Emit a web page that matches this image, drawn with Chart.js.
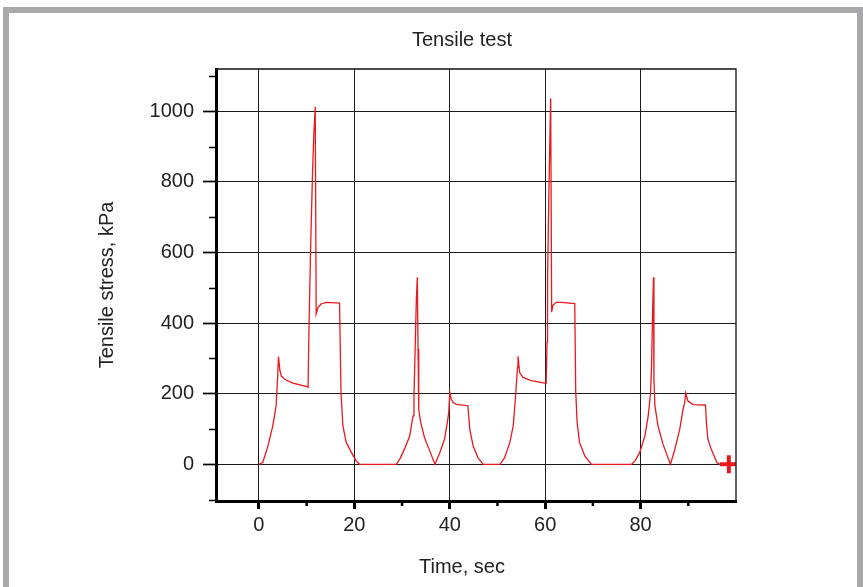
<!DOCTYPE html>
<html>
<head>
<meta charset="utf-8">
<script src="https://cdn.jsdelivr.net/npm/chart.js@4.4.1/dist/chart.umd.min.js"></script>
<style>
  html, body { margin: 0; padding: 0; background: #fff; }
  #wrap { position: relative; width: 863px; height: 587px; overflow: hidden; }
  #frame {
    position: absolute; left: 3px; top: 7px; width: 848px; height: 600px;
    border-left: 6px solid #a9a9ac; border-top: 6px solid #a9a9ac; border-right: 6px solid #a9a9ac;
    pointer-events: none;
  }
  canvas { position: absolute; left: 0; top: 0; }
</style>
</head>
<body>
<div id="wrap">
  <canvas id="myChart" width="863" height="587"></canvas>
  <div id="frame"></div>
</div>
<script>
// time (sec) and tensile stress (kPa)
const timeSec = [
  0, 0.8, 1.9, 2.9, 3.6, 3.9, 4.1, 4.4, 4.7, 5.4, 7.1, 9.9, 10.3,
  10.5, 10.8, 11.2, 11.5, 11.8, 12.0, 12.4, 13.1, 14.1, 16.9, 17.2,
  17.6, 18.3, 19.4, 20.4, 21.1, 28.8, 29.5, 30.5, 31.6, 32.3, 32.5,
  32.7, 33.0, 33.2, 33.35, 33.5, 33.9, 34.7, 35.8, 36.9, 37.9, 38.9,
  39.6, 39.8, 40.0, 40.3, 40.7, 41.4, 43.8, 44.2, 44.9, 45.9, 47.0,
  50.5, 51.5, 52.6, 53.3, 53.75, 54.2, 54.3, 54.65, 55.35, 57.1, 59.9,
  60.2, 60.4, 60.5, 60.7, 60.95, 61.15, 61.36, 61.6, 62.3, 63.4, 66.2,
  66.4, 66.7, 67.2, 68.3, 69.7, 78.1, 78.8, 79.8, 80.9, 81.6, 82.1,
  82.3, 82.5, 82.7, 82.8, 83.0, 83.65, 84.7, 86.25, 87.1, 88.2, 88.9,
  89.25, 89.45, 89.9, 91.0, 93.6, 93.8, 94.1, 94.8, 96.0, 96.6, 98.5
];
const stressKPa = [
  0, 5, 52, 109, 166, 241, 305, 265, 250, 241, 230, 221, 218,
  393, 592, 810, 933, 1013, 426, 445, 455, 459, 457, 204,
  109, 62, 33, 9, 0, 0, 14, 43, 80, 137, 194,
  303, 469, 530, 327, 156, 119, 76, 38, 0, 33, 71,
  128, 150, 204, 185, 175, 170, 166, 99, 52, 19, 0,
  0, 19, 62, 109, 185, 275, 306, 260, 246, 237, 230,
  229, 346, 521, 705, 895, 1037, 431, 450, 459, 459, 455,
  208, 118, 62, 24, 0, 0, 9, 33, 80, 137, 204,
  279, 421, 530, 241, 166, 109, 57, 0, 38, 99, 156,
  175, 202, 180, 169, 168, 118, 71, 43, 5, 0, 0
];
const xTickLabels = [0, 20, 40, 60, 80];
const yTickLabels = [0, 200, 400, 600, 800, 1000];
const xMinorTicks = [10, 30, 50, 70, 90];
const yMinorTicks = [-100, 100, 300, 500, 700, 900, 1100];

const points = timeSec.map((t, i) => ({ x: t, y: stressKPa[i] }));
const lastIdx = points.length - 1;
const red = "#e8191f";
const font = { family: "'Liberation Sans', Arial, sans-serif", size: 20 };

// top/right frame lines and the short minor ticks
const frameAndMinorTicks = {
  id: "frameAndMinorTicks",
  afterDraw(chart) {
    const { ctx, chartArea: a, scales: { x, y } } = chart;
    ctx.save();
    ctx.strokeStyle = "#111";
    ctx.lineWidth = 1.3;
    ctx.beginPath();
    ctx.moveTo(a.left, a.top);
    ctx.lineTo(a.right, a.top);
    ctx.lineTo(a.right, a.bottom);
    ctx.stroke();
    ctx.strokeStyle = "#000";
    ctx.lineWidth = 1.7;
    ctx.beginPath();
    yMinorTicks.forEach((v) => {
      const py = Math.round(y.getPixelForValue(v)) + 0.5;
      ctx.moveTo(a.left - 7, py);
      ctx.lineTo(a.left, py);
    });
    ctx.stroke();
    ctx.lineWidth = 2.5;
    ctx.beginPath();
    xMinorTicks.forEach((v) => {
      const px = x.getPixelForValue(v);
      ctx.moveTo(px, a.bottom);
      ctx.lineTo(px, a.bottom + 5);
    });
    ctx.stroke();
    ctx.restore();
  },
};

const ctx = document.getElementById("myChart");
const myChart = new Chart(ctx, {
  type: "line",
  data: {
    datasets: [
      {
        data: points,
        borderColor: red,
        borderWidth: 1.3,
        tension: 0,
        fill: false,
        pointStyle: "cross",
        pointRadius: (c) => (c.dataIndex === lastIdx ? 9 : 0),
        pointHoverRadius: 0,
        pointBorderWidth: 4,
        pointBorderColor: red,
      },
    ],
  },
  options: {
    responsive: false,
    devicePixelRatio: 1,
    animation: false,
    layout: { padding: { left: 61, right: 0, top: 0, bottom: 0 } },
    plugins: {
      legend: { display: false },
      tooltip: { enabled: false },
      title: {
        display: true,
        text: "Tensile test",
        color: "#222",
        font: { ...font, weight: "normal" },
        padding: { top: 28, bottom: 17 },
      },
      subtitle: {
        display: true,
        position: "bottom",
        text: "Time, sec",
        color: "#222",
        font: { ...font, weight: "normal" },
        padding: { top: 0, bottom: 8 },
      },
    },
    scales: {
      x: {
        type: "linear",
        min: -9,
        max: 100,
        afterFit: (s) => { s.height = 54; },
        afterBuildTicks: (s) => {
          s.ticks = xTickLabels.map((v) => ({ value: v }));
        },
        ticks: { color: "#222", font, padding: 4, maxRotation: 0, autoSkip: false },
        grid: { color: "#1a1a1a", lineWidth: 1, tickLength: 8, tickWidth: 3, tickColor: "#000" },
        border: { display: true, color: "#000", width: 3 },
      },
      y: {
        min: -104,
        max: 1120,
        afterFit: (s) => { s.width = 155; },
        afterBuildTicks: (s) => {
          s.ticks = yTickLabels.map((v) => ({ value: v }));
        },
        ticks: { color: "#222", font, padding: 9, autoSkip: false, callback: (v) => String(v) },
        grid: { color: "#1a1a1a", lineWidth: 1, tickLength: 13, tickWidth: 1.7, tickColor: "#000" },
        border: { display: true, color: "#000", width: 3 },
        title: { display: true, text: "Tensile stress, kPa", color: "#222", font, padding: { top: 34, bottom: 0 } },
      },
      // empty right-hand strip so the plot ends where the reference plot ends
      yRight: {
        position: "right",
        afterFit: (s) => { s.width = 127; },
        ticks: { display: false },
        grid: { display: false },
        border: { display: false },
      },
    },
  },
  plugins: [frameAndMinorTicks],
});
</script>
</body>
</html>
